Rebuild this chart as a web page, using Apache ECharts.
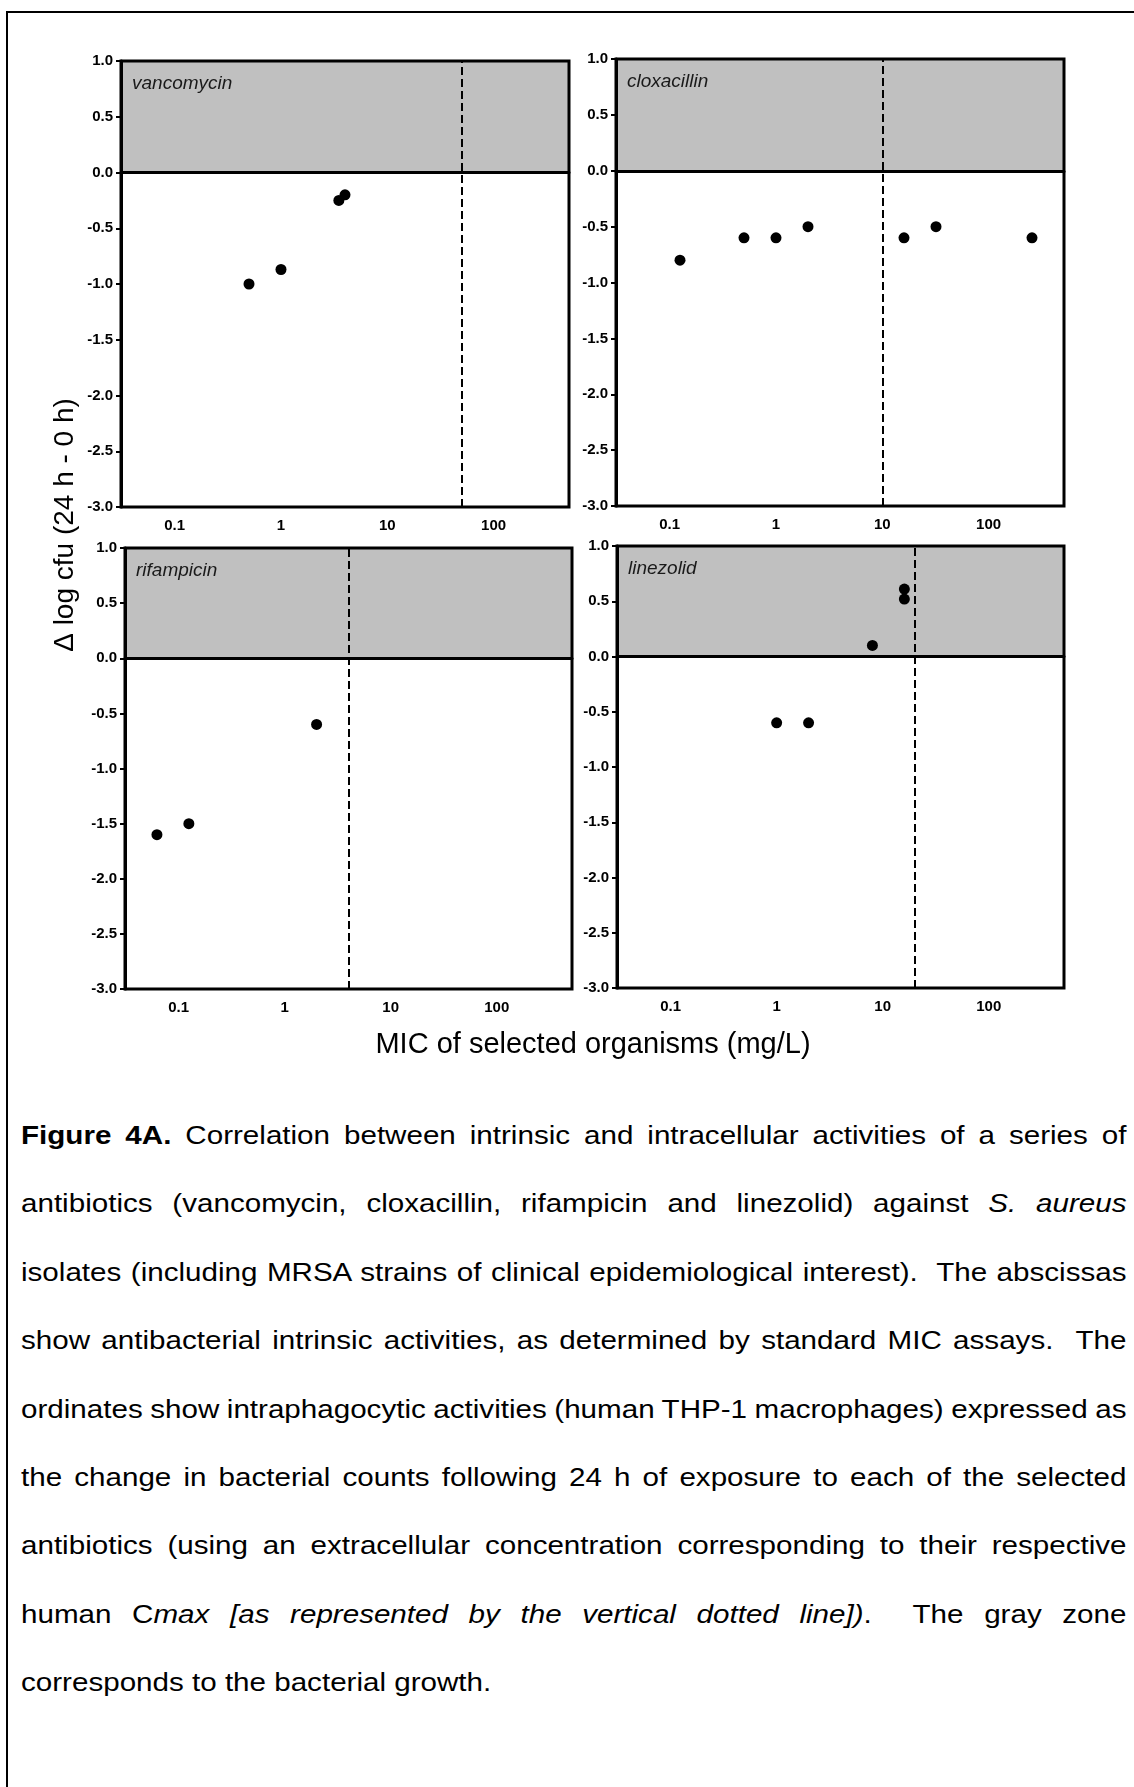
<!DOCTYPE html>
<html><head><meta charset="utf-8">
<script src="https://cdn.jsdelivr.net/npm/echarts@6/dist/echarts.min.js"></script>
<style>
html,body{margin:0;padding:0;width:1134px;height:1787px;overflow:hidden;background:#fff;}
#frame{position:absolute;left:6px;top:11px;width:1300px;height:1900px;border:2px solid #000;box-sizing:border-box;}
#chart{position:absolute;left:0;top:0;width:1134px;height:1090px;}
#caption{position:absolute;left:21px;top:1101px;width:953px;transform:scaleX(1.16);transform-origin:0 0;
  font-family:'Liberation Sans',Arial,sans-serif;font-size:25.5px;line-height:68.4px;color:#000;}
#caption > div{white-space:nowrap;}
#caption span{display:inline-block;white-space:nowrap;}
</style>
</head><body>
<div id="frame"></div>
<div id="chart"></div>
<div id="caption">
<div class="j"><span><b>Figure 4A.</b> Correlation between intrinsic and intracellular activities of a series of</span></div>
<div class="j"><span>antibiotics (vancomycin, cloxacillin, rifampicin and linezolid) against <i>S. aureus</i></span></div>
<div class="j"><span>isolates (including MRSA strains of clinical epidemiological interest).&nbsp; The abscissas</span></div>
<div class="j"><span>show antibacterial intrinsic activities, as determined by standard MIC assays.&nbsp; The</span></div>
<div class="j"><span>ordinates show intraphagocytic activities (human THP-1 macrophages) expressed as</span></div>
<div class="j"><span>the change in bacterial counts following 24 h of exposure to each of the selected</span></div>
<div class="j"><span>antibiotics (using an extracellular concentration corresponding to their respective</span></div>
<div class="j"><span>human C<i>max [as represented by the vertical dotted line])</i>.&nbsp; The gray zone</span></div>
<div class="l"><span>corresponds to the bacterial growth.</span></div>
</div>
<script>
// justify each caption line to the full text width
(function () {
  const target = 953;
  document.querySelectorAll('#caption .j span').forEach(sp => {
    const w = sp.getBoundingClientRect().width / 1.16;
    const n = (sp.textContent.match(/[ \u00a0]/g) || []).length;
    if (n > 0) sp.style.wordSpacing = ((target - w) / n) + 'px';
  });
})();

// ---- data ----
const panelNames = ['vancomycin', 'cloxacillin', 'rifampicin', 'linezolid'];
const vancomycinMIC   = [0.5, 1, 3.5, 4];
const vancomycinDelta = [-1.0, -0.87, -0.25, -0.2];
const cloxacillinMIC   = [0.125, 0.5, 1, 2, 16, 32, 256];
const cloxacillinDelta = [-0.8, -0.6, -0.6, -0.5, -0.6, -0.5, -0.6];
const rifampicinMIC   = [0.0625, 0.125, 2];
const rifampicinDelta = [-1.6, -1.5, -0.6];
const linezolidMIC   = [1, 2, 8, 16, 16];
const linezolidDelta = [-0.6, -0.6, 0.1, 0.61, 0.52];
const cmaxValues = [50, 10, 4, 20];           // vertical dashed line (human Cmax)
const growthZone = [0, 1];                     // gray zone on the y axis
const xMin = 1 / 32, xMax = 512;
const yMin = -3, yMax = 1, yInterval = 0.5;
const xTickLabels = ['0.1', '1', '10', '100'];
const yLabel = '\u0394 log cfu (24 h - 0 h)';
const xLabel = 'MIC of selected organisms (mg/L)';

const micLists = [vancomycinMIC, cloxacillinMIC, rifampicinMIC, linezolidMIC];
const deltaLists = [vancomycinDelta, cloxacillinDelta, rifampicinDelta, linezolidDelta];

// ---- layout ----
const grids = [
  {left: 121, top: 61,  width: 448, height: 446},
  {left: 616, top: 59,  width: 448, height: 447},
  {left: 125, top: 548, width: 447, height: 441},
  {left: 617, top: 546, width: 447, height: 442}
];
const FONT = "'Liberation Sans', Arial, sans-serif";

const option = {
  animation: false,
  grid: grids.map(g => Object.assign({
    show: true, borderColor: '#000', borderWidth: 3, backgroundColor: 'transparent',
    containLabel: false, outerBoundsMode: 'none', z: 3
  }, g)),
  xAxis: grids.map((g, i) => ({
    type: 'log', logBase: 10, gridIndex: i, min: xMin, max: xMax,
    axisLine: {show: true, lineStyle: {color: '#000', width: 3}},
    axisTick: {show: false},
    splitLine: {show: false},
    axisLabel: {
      show: true, margin: 11, color: '#000', fontFamily: FONT, fontWeight: 'bold', fontSize: 15,
      showMinLabel: false, showMaxLabel: false,
      formatter: v => {
        const s = v >= 1 ? String(Math.round(v)) : String(+v.toPrecision(1));
        return xTickLabels.indexOf(s) >= 0 ? s : '';
      }
    },
    z: 5
  })),
  yAxis: grids.map((g, i) => ({
    type: 'value', gridIndex: i, min: yMin, max: yMax, interval: yInterval,
    axisLine: {show: true, lineStyle: {color: '#000', width: 3}},
    axisTick: {show: true, inside: false, length: 5, lineStyle: {color: '#000', width: 2}},
    splitLine: {show: false},
    axisLabel: {margin: 8, color: '#000', fontFamily: FONT, fontWeight: 'bold', fontSize: 15,
      formatter: v => v.toFixed(1)},
    z: 5
  })),
  title: panelNames.map((name, i) => ({
    text: name, left: grids[i].left + 11, top: grids[i].top + 13,
    padding: 0,
    textStyle: {fontFamily: FONT, fontStyle: 'italic', fontWeight: 'normal', fontSize: 19, color: '#1a1a1a'}
  })),
  graphic: [
    {type: 'text', x: 65, y: 525, rotation: Math.PI / 2,
     style: {text: yLabel, font: "28px 'Liberation Sans', Arial, sans-serif", fill: '#000',
             textAlign: 'center', textVerticalAlign: 'middle'}},
    {type: 'text', x: 593, y: 1045,
     style: {text: xLabel, font: "29px 'Liberation Sans', Arial, sans-serif", fill: '#000',
             textAlign: 'center', textVerticalAlign: 'middle'}}
  ],
  series: panelNames.map((name, i) => ({
    name: name, type: 'scatter', xAxisIndex: i, yAxisIndex: i,
    symbol: 'circle', symbolSize: 11, itemStyle: {color: '#000', opacity: 1},
    z: 2,
    data: micLists[i].map((m, k) => [m, deltaLists[i][k]]),
    markArea: {
      silent: true,
      itemStyle: {color: '#c0c0c0', opacity: 1},
      data: [[{yAxis: growthZone[0]}, {yAxis: growthZone[1]}]]
    },
    markLine: {
      silent: true, symbol: 'none', label: {show: false},
      data: [
        {yAxis: 0, lineStyle: {color: '#000', type: 'solid', width: 2}},
        {xAxis: cmaxValues[i], lineStyle: {color: '#000', type: [8, 4], width: 2}}
      ]
    }
  }))
};

const chart = echarts.init(document.getElementById('chart'), null, {renderer: 'canvas'});
chart.setOption(option);
</script>
</body></html>
